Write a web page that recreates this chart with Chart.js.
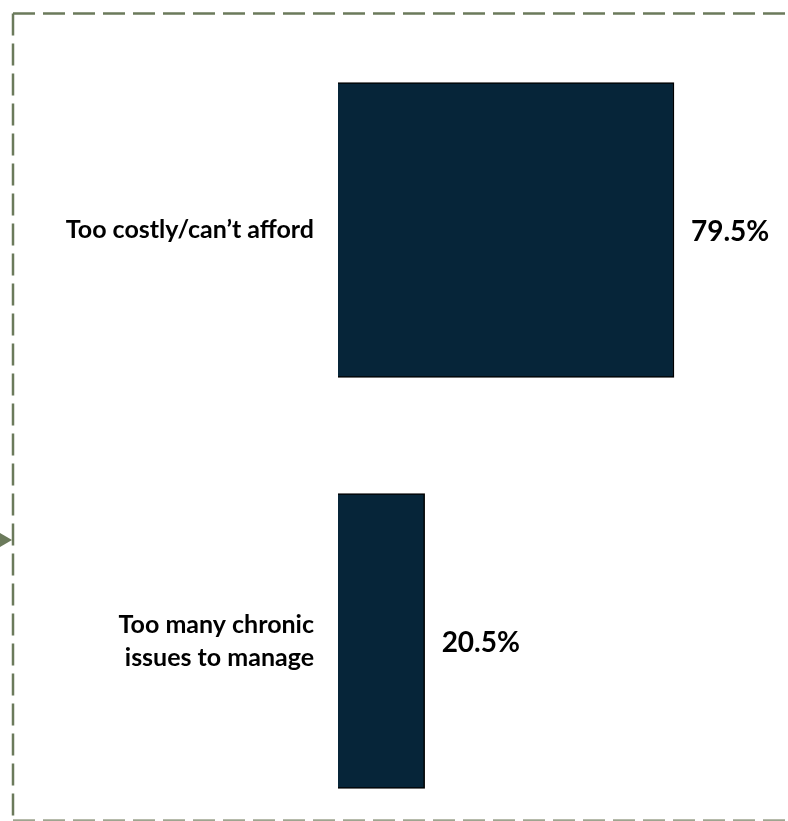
<!DOCTYPE html>
<html>
<head>
<meta charset="utf-8">
<script src="https://cdn.jsdelivr.net/npm/chart.js@4"></script>
<style>
  html, body { margin: 0; padding: 0; background: #ffffff; }
  #wrap { position: relative; width: 788px; height: 821px; }
</style>
</head>
<body>
<div id="wrap"><canvas id="c" width="788" height="821"></canvas></div>
<script>
const categories = [
  "Too costly/can\u2019t afford",
  ["Too many chronic", "issues to manage"]
];
const values = [79.5, 20.5];
const valueLabels = ["79.5%", "20.5%"];

const FONT = "Lato, 'Liberation Sans', sans-serif";

const framePlugin = {
  id: 'frame',
  beforeDraw(chart) {
    const ctx = chart.ctx;
    ctx.save();
    ctx.strokeStyle = '#6b7a5b';
    ctx.lineWidth = 2.5;
    ctx.setLineDash([22, 8]);
    ctx.beginPath();
    ctx.moveTo(13, 13.5); ctx.lineTo(788, 13.5);
    ctx.moveTo(13, 13.5); ctx.lineTo(13, 821);
    ctx.stroke();
    ctx.strokeStyle = '#9ea590';
    ctx.beginPath();
    ctx.moveTo(13, 820.5); ctx.lineTo(788, 820.5);
    ctx.stroke();
    ctx.setLineDash([]);
    ctx.fillStyle = '#6b7a5b';
    ctx.beginPath();
    ctx.moveTo(0, 533); ctx.lineTo(12, 540); ctx.lineTo(0, 547);
    ctx.closePath();
    ctx.fill();
    ctx.restore();
  }
};

const valuePlugin = {
  id: 'values',
  afterDatasetsDraw(chart) {
    const ctx = chart.ctx;
    const meta = chart.getDatasetMeta(0);
    ctx.save();
    ctx.fillStyle = '#000000';
    ctx.font = "bold 28px " + FONT;
    ctx.textAlign = 'left';
    ctx.textBaseline = 'middle';
    meta.data.forEach((bar, i) => {
      ctx.fillText(valueLabels[i], bar.x + 17, bar.y + 2);
    });
    ctx.restore();
  }
};

new Chart(document.getElementById('c'), {
  type: 'bar',
  data: {
    labels: categories,
    datasets: [{
      data: values,
      backgroundColor: '#062539',
      borderColor: '#000000',
      borderWidth: 1.5,
      barThickness: 295,
      clip: false
    }]
  },
  options: {
    indexAxis: 'y',
    responsive: false,
    animation: false,
    layout: { padding: { top: 230, bottom: 180, left: 0, right: 27.4 } },
    plugins: {
      legend: { display: false },
      tooltip: { enabled: false }
    },
    scales: {
      x: {
        min: 0, max: 100,
        display: false,
        grid: { display: false }
      },
      y: {
        type: 'category',
        offset: false,
        grid: { display: false },
        border: { display: false },
        afterFit(axis) { axis.width = 338; },
        ticks: {
          color: '#000000',
          padding: 16,
          font: { family: FONT, weight: 'bold', size: 25, lineHeight: 1.32 }
        }
      }
    }
  },
  plugins: [framePlugin, valuePlugin]
});
</script>
</body>
</html>
